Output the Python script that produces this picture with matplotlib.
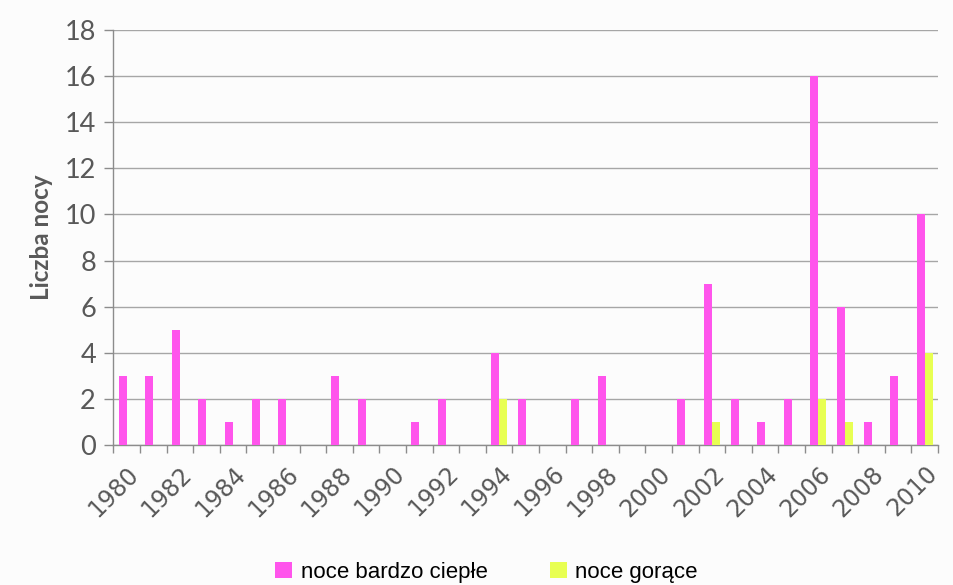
import numpy as np
import matplotlib
matplotlib.use('Agg')
import matplotlib.pyplot as plt

# ---- data: number of nights per year ----
years = list(range(1980, 2011))
very_warm = [3, 3, 5, 2, 1, 2, 2, 0, 3, 2, 0, 1, 2, 0, 4, 2,
             0, 2, 3, 0, 0, 2, 7, 2, 1, 2, 16, 6, 1, 3, 10]
hot = [0, 0, 0, 0, 0, 0, 0, 0, 0, 0, 0, 0, 0, 0, 2, 0,
       0, 0, 0, 0, 0, 0, 1, 0, 0, 0, 2, 1, 0, 0, 4]
series_labels = ['noce bardzo ciepłe', 'noce gorące']
y_label = 'Liczba nocy'

c_warm = '#FF55EC'
c_hot = '#E8FF52'
grey = '#595959'

fig = plt.figure(figsize=(9.54, 5.85), dpi=100, facecolor='#FCFCFC')
ax = fig.add_axes([0.1188, 0.2393, 0.8645, 0.7094])
ax.set_facecolor('#FCFCFC')

x = np.arange(len(years))
w = 0.3
ax.bar(x - 0.15, very_warm, width=w, color=c_warm, label=series_labels[0], zorder=3)
ax.bar(x + 0.15, hot, width=w, color=c_hot, label=series_labels[1], zorder=3)

ax.set_xlim(-0.5, len(years) - 0.5)
ax.set_ylim(0, 18)
ax.set_yticks(range(0, 19, 2))
ax.yaxis.grid(True, color='#A6A6A6', linewidth=1.0, zorder=0)

for s in ['top', 'right']:
    ax.spines[s].set_visible(False)
for s in ['left', 'bottom']:
    ax.spines[s].set_color('#8C8C8C')
    ax.spines[s].set_linewidth(1.0)

ax.tick_params(axis='y', direction='out', length=6.5, width=1.0, color='#8C8C8C',
               labelcolor=grey, labelsize=19.5, pad=6)
for lbl in ax.get_yticklabels():
    lbl.set_family('Lato')

# year labels on every other category, tick marks between categories
ax.set_xticks(x[::2])
ax.set_xticklabels([str(y) for y in years[::2]], rotation=45, ha='right',
                   va='top', rotation_mode='anchor', fontsize=17, color=grey,
                   family='DejaVu Sans')
ax.tick_params(axis='x', which='major', length=0, pad=12)
ax.set_xticks(np.arange(-0.5, len(years)), minor=True)
ax.tick_params(axis='x', which='minor', direction='out', length=6, width=1.0,
               color='#8C8C8C')

ax.set_ylabel(y_label, fontsize=17.5, fontweight='bold', color=grey,
              family='Lato', labelpad=8)

fig.legend(loc='lower center', bbox_to_anchor=(0.51, -0.03), ncol=2,
           frameon=False, handlelength=0.75, handleheight=0.75,
           handletextpad=0.4, columnspacing=2.8,
           prop={'family': ['Liberation Sans Narrow', 'Liberation Sans'], 'size': 16})

fig.savefig('out.png', dpi=100, facecolor=fig.get_facecolor())
